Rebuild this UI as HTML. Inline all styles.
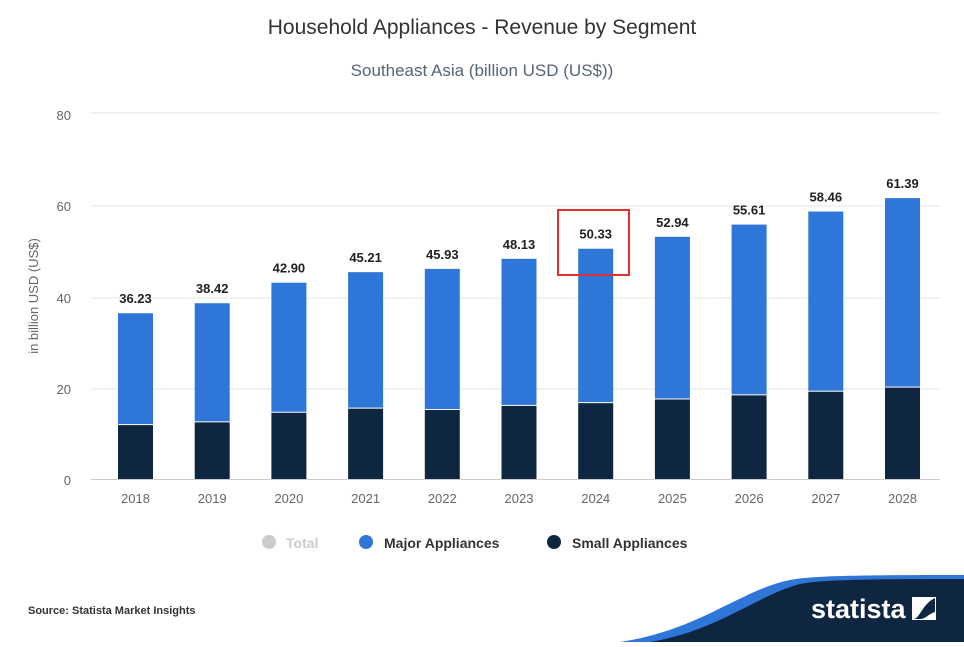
<!DOCTYPE html>
<html><head><meta charset="utf-8"><style>
body{margin:0;background:#fff;width:964px;height:642px;overflow:hidden;font-family:"Liberation Sans",sans-serif}
</style></head><body>
<svg width="964" height="642" xmlns="http://www.w3.org/2000/svg" font-family="Liberation Sans, sans-serif">
<text x="482" y="34" text-anchor="middle" font-size="21" fill="#333">Household Appliances - Revenue by Segment</text>
<text x="482" y="76" text-anchor="middle" font-size="17" fill="#556577">Southeast Asia (billion USD (US$))</text>
<g stroke="#e6e6e6" stroke-width="1">
<line x1="91" y1="113" x2="940" y2="113"/><line x1="91" y1="206" x2="940" y2="206"/>
<line x1="91" y1="298" x2="940" y2="298"/><line x1="91" y1="389" x2="940" y2="389"/>
<line x1="91" y1="479.5" x2="940" y2="479.5" stroke="#ccc"/>
</g>
<g font-size="13" fill="#666" text-anchor="end">
<text x="71" y="120">80</text><text x="71" y="211">60</text><text x="71" y="303">40</text><text x="71" y="394">20</text><text x="71" y="485">0</text>
</g>
<text transform="translate(38,296) rotate(-90)" text-anchor="middle" font-size="13" fill="#666">in billion USD (US$)</text>
<g id="bars"></g>
<rect x="558" y="210" width="71" height="65" fill="none" stroke="#e03030" stroke-width="2"/>
<g font-size="14" font-weight="bold" fill="#333">
<circle cx="269" cy="542" r="7" fill="#ccc"/><text x="286" y="548" fill="#ccc">Total</text>
<circle cx="366" cy="542" r="7" fill="#2f76d9"/><text x="384" y="548">Major Appliances</text>
<circle cx="554" cy="542" r="7" fill="#0f2640"/><text x="572" y="548">Small Appliances</text>
</g>
<text x="28" y="614" font-size="11" font-weight="bold" fill="#333">Source: Statista Market Insights</text>
<path d="M620 642 C700 630 740 590 790 580 C810 576 850 575 964 575 L964 642 Z" fill="#2f76d9"/>
<path d="M650 642 C720 630 755 596 800 584 C820 580 860 579 964 579 L964 642 Z" fill="#0f2640"/>
<text x="811" y="618" font-size="27" font-weight="bold" fill="#fff">statista</text>
<path d="M912 597 L936 597 L936 620 L912 620 Z" fill="#fff"/>
<path d="M913 619 C920 619 922 604 935 598 L935 612 C928 614 926 619 920 619 Z" fill="#0f2640"/>
</svg>
<script>
var tot=[36.23,38.42,42.90,45.21,45.93,48.13,50.33,52.94,55.61,58.46,61.39];
var sm=[12.0,12.6,14.7,15.6,15.3,16.2,16.8,17.6,18.5,19.3,20.2];
var g=document.getElementById('bars'),ns='http://www.w3.org/2000/svg',s='';
for(var i=0;i<11;i++){var cx=135.5+i*76.7,x=cx-17.5,k=4.575,b=479;
var yt=b-tot[i]*k,ys=b-sm[i]*k;
s+='<rect x="'+x+'" y="'+yt+'" width="35" height="'+(ys-yt)+'" fill="#2f76d9"/>';
s+='<rect x="'+x+'" y="'+(ys+1)+'" width="35" height="'+(b-ys-1)+'" fill="#0f2640"/>';
s+='<text x="'+cx+'" y="'+(yt-10)+'" text-anchor="middle" font-size="13" font-weight="bold" fill="#222">'+tot[i].toFixed(2)+'</text>';
s+='<text x="'+cx+'" y="503" text-anchor="middle" font-size="13" fill="#666">'+(2018+i)+'</text>';}
g.innerHTML=s;
</script>
</body></html>
